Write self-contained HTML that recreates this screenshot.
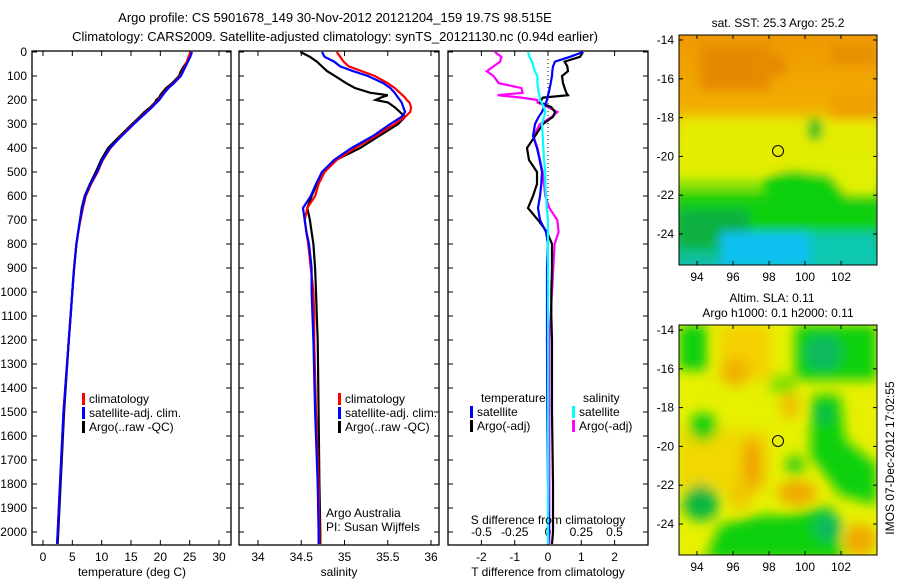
<!DOCTYPE html>
<html><head><meta charset="utf-8"><style>
body{margin:0;background:#fff;}
svg{display:block;font-family:"Liberation Sans",sans-serif;}
</style></head><body>
<svg id="fig" width="900" height="580" viewBox="0 0 900 580">
<defs>
<filter id="bl" x="-30%" y="-30%" width="160%" height="160%"><feGaussianBlur stdDeviation="5"/></filter>
<filter id="bl2" x="-30%" y="-30%" width="160%" height="160%"><feGaussianBlur stdDeviation="6"/></filter>
<clipPath id="m1"><rect x="679" y="35" width="198" height="230"/></clipPath>
<clipPath id="m2"><rect x="679" y="325" width="198" height="230"/></clipPath>
<linearGradient id="g1" x1="0" y1="0" x2="0" y2="1">
<stop offset="0" stop-color="#ee9800"/><stop offset="0.3" stop-color="#f2ac00"/>
<stop offset="0.42" stop-color="#e8e000"/><stop offset="0.6" stop-color="#d8f000"/>
<stop offset="0.72" stop-color="#30d010"/><stop offset="0.85" stop-color="#10b840"/>
<stop offset="1" stop-color="#10c0b0"/></linearGradient>
</defs>
<text x="335" y="22" font-size="13" text-anchor="middle">Argo profile: CS 5901678_149 30-Nov-2012 20121204_159 19.7S 98.515E</text>
<text x="335" y="41" font-size="13" text-anchor="middle">Climatology: CARS2009. Satellite-adjusted climatology: synTS_20121130.nc (0.94d earlier)</text>

<g id="map1" clip-path="url(#m1)">
<rect x="679" y="35" width="198" height="230" fill="url(#g1)"/>
<g filter="url(#bl)">
<rect x="700" y="45" width="70" height="45" fill="#e58a00"/>
<rect x="760" y="55" width="25" height="20" fill="#e88800"/>
<rect x="830" y="45" width="47" height="20" fill="#e89000"/>
<rect x="830" y="90" width="47" height="40" fill="#f0a000"/>
<rect x="680" y="120" width="200" height="52" fill="#e4ec00"/>
<rect x="790" y="150" width="90" height="45" fill="#e0f000"/>
<polygon points="765,178 790,170 830,175 850,200 877,205 877,235 679,235 679,200 765,200" fill="#10d010"/>
<rect x="808" y="120" width="14" height="20" fill="#20c020"/>
<rect x="679" y="210" width="70" height="35" fill="#10b040"/>
<rect x="720" y="232" width="90" height="35" fill="#10c0f0"/>
<rect x="810" y="232" width="67" height="35" fill="#10c8b0"/>
</g>
</g>
<rect x="679" y="35" width="198" height="230" fill="none" stroke="#000"/>
<circle cx="778" cy="151" r="5.5" fill="none" stroke="#000"/>
<text x="778" y="27" font-size="12" text-anchor="middle">sat. SST: 25.3 Argo: 25.2</text>

<g id="map2" clip-path="url(#m2)">
<rect x="679" y="325" width="198" height="230" fill="#e6f000"/>
<g filter="url(#bl2)">
<rect x="720" y="325" width="50" height="55" fill="#f4d000"/>
<ellipse cx="735" cy="372" rx="14" ry="14" fill="#f0b000"/>
<rect x="679" y="430" width="90" height="60" fill="#f0d800"/>
<ellipse cx="752" cy="465" rx="11" ry="28" fill="#f0a800"/>
<ellipse cx="797" cy="493" rx="20" ry="12" fill="#f0a800"/>
<ellipse cx="740" cy="495" rx="12" ry="15" fill="#f0c800"/>
<circle cx="860" cy="540" r="16" fill="#f0a800"/>
<ellipse cx="790" cy="405" rx="10" ry="14" fill="#f0c000"/>
<rect x="679" y="325" width="28" height="45" fill="#10d010"/>
<rect x="795" y="325" width="82" height="55" fill="#10d010"/>
<circle cx="823" cy="353" r="18" fill="#10b860"/>
<polygon points="812,395 840,395 845,440 877,465 877,505 840,495 810,455" fill="#10d010"/>
<circle cx="824" cy="415" r="9" fill="#10b850"/>
<circle cx="703" cy="427" r="14" fill="#10d010"/>
<circle cx="701" cy="503" r="18" fill="#10b840"/>
<polygon points="705,560 720,525 760,515 790,515 830,505 845,560" fill="#10d010"/>
<circle cx="828" cy="527" r="14" fill="#10b860"/>
<circle cx="795" cy="465" r="10" fill="#40d010"/>
<rect x="770" y="375" width="25" height="18" fill="#80e000"/>
</g>
</g>
<rect x="679" y="325" width="198" height="230" fill="none" stroke="#000"/>
<circle cx="778" cy="441" r="5.5" fill="none" stroke="#000"/>
<text x="772" y="302" font-size="12" text-anchor="middle">Altim. SLA: 0.11</text>
<text x="778" y="317" font-size="12" text-anchor="middle">Argo h1000: 0.1 h2000: 0.11</text>
<text transform="translate(894,458) rotate(-90)" font-size="12" text-anchor="middle">IMOS 07-Dec-2012 17:02:55</text>
</svg>
<script>
// depth levels (dbar)
const depth = [0,20,40,60,80,100,130,150,170,180,190,200,210,230,250,270,300,350,400,450,500,550,600,650,700,750,800,900,1000,1100,1200,1500,1800,2000,2050];
// panel 1 temperature (deg C)
const tClim = [25.1,24.8,24.5,24.2,23.8,23.4,22.2,21.3,20.6,20.3,20.0,19.7,19.3,18.5,17.6,16.7,15.4,13.3,11.5,10.2,9.3,8.2,7.3,6.8,6.4,6.0,5.7,5.3,5.0,4.7,4.4,3.5,2.9,2.5,2.4];
const tSat  = [25.4,25.1,24.7,24.3,23.9,23.5,22.3,21.4,20.7,20.4,20.1,19.8,19.4,18.6,17.7,16.8,15.5,13.4,11.4,10.1,9.2,8.1,7.2,6.7,6.3,6.0,5.7,5.3,5.0,4.7,4.4,3.5,2.9,2.5,2.4];
const tArgo = [25.2,25.0,24.6,24.0,23.5,23.2,22.0,21.0,20.3,20.0,19.8,19.3,19.1,18.3,17.3,16.5,15.2,13.1,11.1,9.9,9.0,8.0,7.1,6.6,6.3,6.0,5.7,5.3,5.0,4.7,4.4,3.6,3.0,2.6,2.5];
// panel 2 salinity
const sClim = [34.91,34.95,34.99,35.05,35.2,35.35,35.5,35.58,35.64,35.67,35.7,35.72,35.75,35.77,35.76,35.7,35.58,35.36,35.12,34.91,34.77,34.7,34.66,34.57,34.54,34.56,34.58,34.61,34.64,34.65,34.65,34.67,34.7,34.71,34.71];
const sSat  = [34.74,34.77,34.88,34.95,35.1,35.27,35.45,35.53,35.58,35.6,35.62,35.64,35.66,35.68,35.7,35.66,35.53,35.33,35.08,34.88,34.74,34.67,34.61,34.52,34.54,34.56,34.59,34.62,34.62,34.63,34.64,34.66,34.69,34.7,34.7];
const sArgo = [34.49,34.6,34.68,34.74,34.8,34.89,35.02,35.12,35.3,35.5,35.42,35.36,35.5,35.58,35.64,35.7,35.62,35.4,35.18,34.9,34.74,34.68,34.62,34.57,34.6,34.62,34.64,34.66,34.67,34.68,34.69,34.7,34.71,34.72,34.72];
// panel 3 differences
const dTsat  = [1.05,0.66,0.21,0.15,0.13,0.12,0.08,0.05,0.02,0.0,-0.02,-0.03,-0.06,-0.12,-0.18,-0.28,-0.39,-0.45,-0.33,-0.25,-0.18,-0.2,-0.24,-0.3,-0.24,-0.06,0.0,-0.03,-0.03,-0.03,-0.03,-0.02,0.0,0.03,0.0];
const dTargo = [1.05,0.96,0.5,0.58,0.6,0.42,0.45,0.5,0.55,0.6,-0.15,-0.2,-0.24,0.1,0.21,0.15,-0.15,-0.39,-0.63,-0.57,-0.33,-0.33,-0.45,-0.6,-0.3,-0.03,0.12,0.12,0.1,0.1,0.12,0.12,0.15,0.15,0.12];
const dSsat  = [-0.15,-0.14,-0.12,-0.11,-0.1,-0.08,-0.08,-0.075,-0.07,-0.065,-0.06,-0.06,-0.05,-0.03,-0.02,-0.03,-0.045,-0.04,-0.035,-0.03,-0.02,-0.02,-0.015,-0.01,0.0,0.0,0.0,0.0,0.0,0.0,0.0,0.0,0.0,0.0,0.0];
const dSargo = [-0.4,-0.35,-0.36,-0.41,-0.46,-0.41,-0.37,-0.2,-0.19,-0.38,-0.2,-0.08,-0.08,0.0,0.07,0.03,-0.06,-0.11,-0.08,-0.06,-0.04,-0.03,-0.02,0.01,0.07,0.08,0.05,0.04,0.03,0.02,0.01,0.01,0.01,0.01,0.01];
const depthTicks = [0,100,200,300,400,500,600,700,800,900,1000,1100,1200,1300,1400,1500,1600,1700,1800,1900,2000];
const tTicks = [0,5,10,15,20,25,30];
const sTicks = [34,34.5,35,35.5,36];
const dTTicks = [-2,-1,0,1,2];
const dSTicks = [-0.5,-0.25,0,0.25,0.5];
const dSLabels = ['-0.5','-0.25','0','0.25','0.5'];

const NS='http://www.w3.org/2000/svg';
const svg=document.getElementById('fig');
const Y0=52, YK=0.24, TOP=51, BOT=545;
const yOf=p=>Y0+p*YK;
const xT=t=>43+t*5.867;
const xS=s=>258+(s-34)*86.5;
const xdT=d=>548+d*33.3;
const xdS=d=>548+d*133;
function mk(tag,attrs,parent){const e=document.createElementNS(NS,tag);for(const k in attrs)e.setAttribute(k,attrs[k]);(parent||svg).appendChild(e);return e;}
function txt(x,y,s,anchor,size,parent){const e=mk('text',{x:x,y:y,'font-size':size||12,'text-anchor':anchor||'middle'},parent);e.textContent=s;return e;}
function panel(name,x0,x1,xticks,xfun,xlabels,ylab){
  const g=mk('g',{});
  
  
  const r=mk('rect',{x:x0,y:TOP,width:x1-x0,height:BOT-TOP,fill:'none',stroke:'#000','stroke-width':1.3},g);
  
  
  depthTicks.forEach(p=>{const y=yOf(p);
    mk('line',{x1:x0,x2:x0+5,y1:y,y2:y,stroke:'#000'},g);
    mk('line',{x1:x1-5,x2:x1,y1:y,y2:y,stroke:'#000'},g);
    if(ylab){const t=txt(27,y+4,String(p),'end',12,g);
      
      }
  });
  xticks.forEach((v,i)=>{const x=xfun(v);
    mk('line',{x1:x,x2:x,y1:BOT,y2:BOT-5,stroke:'#000'},g);
    mk('line',{x1:x,x2:x,y1:TOP,y2:TOP+5,stroke:'#000'},g);
    if(xlabels){const t=txt(x,561,xlabels[i],'middle',12,g);
      
      }
  });
  return g;
}
function line(vals,xf,color,name,w){
  const pts=vals.map((v,i)=>xf(v).toFixed(1)+','+yOf(depth[i]).toFixed(1)).join(' ');
  const l=mk('polyline',{points:pts,fill:'none',stroke:color,'stroke-width':w||2.2});
  
  
}
function legend(x,y,items){
  items.forEach((it,i)=>{const yy=y+i*14;
    const b=mk('rect',{x:x,y:yy-10,width:3,height:12,fill:it[1]});
    
    
    const t=txt(x+7,yy,it[0],'start',12);
    
    
  });
}
panel('temperature-panel',32,231,tTicks,xT,tTicks.map(String),true);
panel('salinity-panel',239,439,sTicks,xS,sTicks.map(String),false);
const p3=panel('difference-panel',448,648,dTTicks,xdT,dTTicks.map(String),false);
dSTicks.forEach((v,i)=>{const t=txt(xdS(v),536,dSLabels[i],'middle',12);
  
  });
const zl=mk('line',{x1:548,x2:548,y1:TOP,y2:BOT,stroke:'#000','stroke-dasharray':'1,3'});



line(tArgo,xT,'#000','temp-argo-line');
line(tClim,xT,'#f00','temp-climatology-line');
line(tSat,xT,'#00f','temp-satellite-line');
line(sArgo,xS,'#000','sal-argo-line');
line(sClim,xS,'#f00','sal-climatology-line');
line(sSat,xS,'#00f','sal-satellite-line');
line(dSargo,xdS,'#f0f','s-diff-argo-line');
line(dTargo,xdT,'#000','t-diff-argo-line');
line(dTsat,xdT,'#00f','t-diff-satellite-line');
line(dSsat,xdS,'#0ff','s-diff-satellite-line');

legend(82,403,[['climatology','#f00'],['satellite-adj. clim.','#00f'],['Argo(..raw -QC)','#000']]);
legend(338,403,[['climatology','#f00'],['satellite-adj. clim.','#00f'],['Argo(..raw -QC)','#000']]);
const lt=txt(481,402,'temperature','start',12);  
const ls=txt(583,402,'salinity','start',12);  
legend(470,416,[['satellite','#00f'],['Argo(-adj)','#000']]);
legend(572,416,[['satellite','#0ff'],['Argo(-adj)','#f0f']]);

[['Argo Australia',326,517],['PI: Susan Wijffels',326,531]].forEach(a=>{const t=txt(a[1],a[2],a[0],'start',12);
  
  });
const a1=txt(132,576,'temperature (deg C)','middle',12);  
const a2=txt(339,576,'salinity','middle',12);  
const a3=txt(548,576,'T difference from climatology','middle',12);  
const a4=txt(548,524,'S difference from climatology','middle',12);  

const lonTicks=[94,96,98,100,102];
const latTicks=[-14,-16,-18,-20,-22,-24];
[[35,265,40],[325,555,330]].forEach((m,k)=>{
  lonTicks.forEach(lo=>{const x=697+(lo-94)*18;
    mk('line',{x1:x,x2:x,y1:m[1],y2:m[1]-4,stroke:'#000'});
    mk('line',{x1:x,x2:x,y1:m[0],y2:m[0]+4,stroke:'#000'});
    const t=txt(x,m[1]+16,String(lo),'middle',12);
    
    });
  latTicks.forEach(la=>{const y=m[2]+(-14-la)*19.4;
    mk('line',{x1:679,x2:683,y1:y,y2:y,stroke:'#000'});
    mk('line',{x1:873,x2:877,y1:y,y2:y,stroke:'#000'});
    const t=txt(674,y+4,String(la),'end',12);
    
    });
});
</script>
</body></html>
